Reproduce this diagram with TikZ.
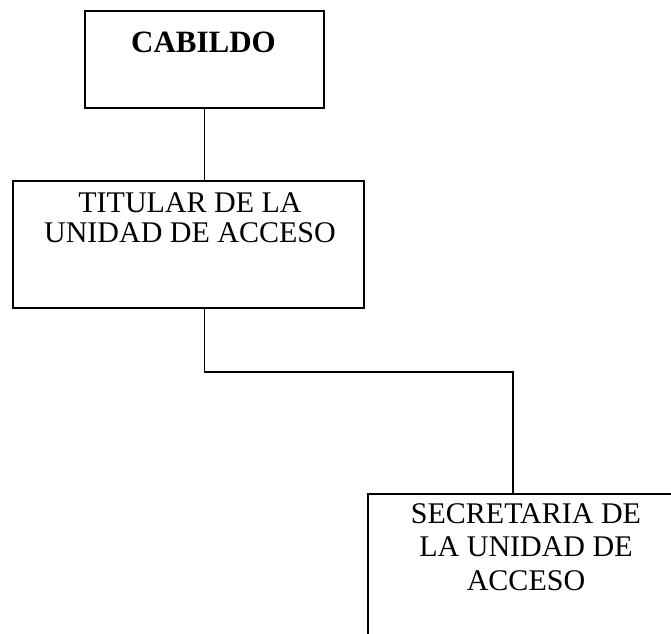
\documentclass[tikz,border=0pt]{standalone}
\usepackage{fontspec}
\setmainfont{Liberation Serif}
\begin{document}
\begin{tikzpicture}[x=1pt,y=-1pt,
  box/.style={draw, line width=1.7pt, rectangle, inner sep=0pt, anchor=north west},
  lbl/.style={anchor=base, inner sep=0pt, align=center, font=\fontsize{30}{30}\selectfont},
  conn/.style={line width=1.7pt}]
\useasboundingbox (0,0) rectangle (671,633);
\clip (0,0) rectangle (671,633);
\node[box, minimum width=239pt, minimum height=97pt] (cab) at (84,10) {};
\node[box, minimum width=351pt, minimum height=127pt] (tit) at (12,180) {};
\node[box, minimum width=318pt, minimum height=200pt] (sec) at (367,493) {};
\node[lbl, font=\fontsize{31}{31}\selectfont\bfseries] (cabt) at (203.5,52) {CABILDO};
\node[lbl] (titt) at (190,242) {TITULAR DE LA\\UNIDAD DE ACCESO};
\node[lbl, font=\fontsize{30}{33.5}\selectfont] (sect) at (526,590) {SECRETARIA DE\\LA UNIDAD DE\\ACCESO};
\coordinate (drop) at (513,372);
\draw[conn] (cab.south) -- (cab.south |- tit.north);
\draw[conn] (cab.south |- tit.south) |- (drop) -- (drop |- sec.north);
\end{tikzpicture}
\end{document}
